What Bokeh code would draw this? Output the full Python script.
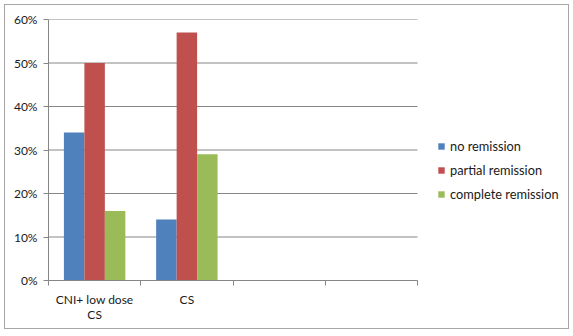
from bokeh.plotting import figure
from bokeh.models import (ColumnDataSource, FixedTicker, NumeralTickFormatter,
                          Legend, LegendItem)
from bokeh.transform import dodge
from bokeh.embed import file_html
from bokeh.resources import INLINE

categories = ["CNI+ low dose\nCS", "CS", "", ""]
series_names = ["no remission", "partial remission", "complete remission"]
no_remission = [0.34, 0.14]
partial_remission = [0.50, 0.57]
complete_remission = [0.16, 0.29]
y_ticks = [0.0, 0.1, 0.2, 0.3, 0.4, 0.5, 0.6]
colors = ["#4F81BD", "#C0504D", "#9BBB59"]

FONT = "Lato"
GRID = "#868686"
n = len(no_remission)
ncat = len(categories)
src = ColumnDataSource(dict(
    x=[i + 0.5 for i in range(n)],
    a=no_remission, b=partial_remission, c=complete_remission,
))

W, H = 565, 325
BL, BR, BT, BB = 43, 0, 14, 50
cat_px = 369.0                      # pixel width of the category area
frame_w = W - BL - BR
x_end = ncat * frame_w / cat_px     # frame also hosts the legend on the right

p = figure(width=W, height=H, x_range=(0, x_end), y_range=(0, 0.6),
           output_backend="svg", toolbar_location=None,
           min_border_left=BL, min_border_right=BR,
           min_border_top=BT, min_border_bottom=BB)
p.styles = {"margin-left": "4px", "margin-top": "4px",
            "border": "1px solid #a6a6a6"}
p.outline_line_color = None
p.border_fill_color = "white"
p.xgrid.visible = False
p.ygrid.visible = False

# horizontal gridlines restricted to the category area
p.segment(x0=0, x1=ncat, y0=y_ticks, y1=y_ticks, line_color=GRID,
          line_width=1, level="underlay")

bw = 0.222
r1 = p.vbar(x=dodge("x", -bw, range=p.x_range), top="a", width=bw, source=src,
            fill_color=colors[0], line_color=None)
r2 = p.vbar(x=dodge("x", 0.0, range=p.x_range), top="b", width=bw, source=src,
            fill_color=colors[1], line_color=None)
r3 = p.vbar(x=dodge("x", bw, range=p.x_range), top="c", width=bw, source=src,
            fill_color=colors[2], line_color=None)

# x axis: category labels at centres, boundary ticks as minor ticks
centres = [i + 0.5 for i in range(ncat)]
bounds = [float(i) for i in range(ncat + 1)]
p.xaxis.bounds = (0, ncat)
p.xaxis.ticker = FixedTicker(ticks=centres, minor_ticks=bounds)
p.xaxis.major_label_overrides = {c: lab for c, lab in zip(centres, categories)}
p.xaxis.major_tick_line_color = None
p.xaxis.major_tick_out = 0
p.xaxis.major_tick_in = 0
p.xaxis.minor_tick_out = 5
p.xaxis.minor_tick_in = 0
p.xaxis.minor_tick_line_color = GRID
p.xaxis.axis_line_color = GRID
p.xaxis.major_label_standoff = 6
p.xaxis.major_label_text_font = FONT
p.xaxis.major_label_text_font_size = "12px"
p.xaxis.major_label_text_color = "#1a1a1a"
p.xaxis.major_label_text_line_height = 1.05

p.yaxis.ticker = FixedTicker(ticks=y_ticks, minor_ticks=[])
p.yaxis.formatter = NumeralTickFormatter(format="0%")
p.yaxis.major_tick_out = 5
p.yaxis.major_tick_in = 0
p.yaxis.major_tick_line_color = GRID
p.yaxis.axis_line_color = GRID
p.yaxis.major_label_standoff = 6
p.yaxis.major_label_text_font = FONT
p.yaxis.major_label_text_font_size = "12px"
p.yaxis.major_label_text_color = "#1a1a1a"

legend = Legend(items=[LegendItem(label=series_names[0], renderers=[r1]),
                       LegendItem(label=series_names[1], renderers=[r2]),
                       LegendItem(label=series_names[2], renderers=[r3])],
                location=(389, 76))
legend.glyph_width = 8
legend.glyph_height = 8
legend.label_height = 20
legend.spacing = 4
legend.padding = 0
legend.margin = 0
legend.label_standoff = 5
legend.border_line_color = None
legend.background_fill_alpha = 0
legend.label_text_font = FONT
legend.label_text_font_size = "12.8px"
legend.label_text_color = "#1a1a1a"
p.add_layout(legend, "center")

open("out.html", "w").write(file_html(p, INLINE))
